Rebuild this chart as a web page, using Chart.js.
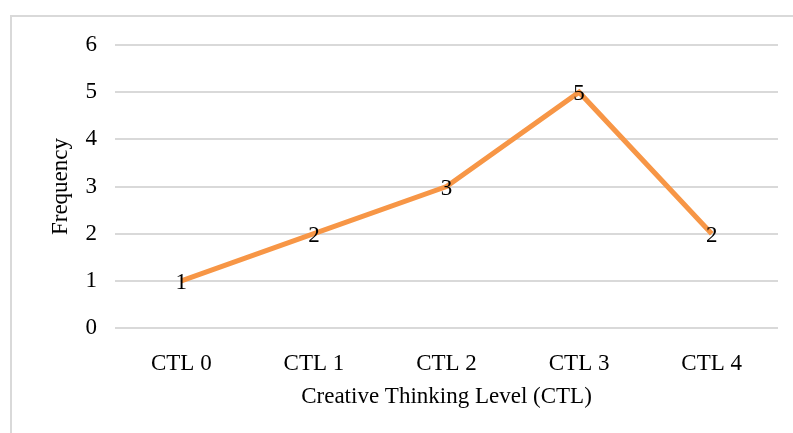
<!DOCTYPE html>
<html>
<head>
<meta charset="utf-8">
<script src="https://cdn.jsdelivr.net/npm/chart.js@4"></script>
<style>
  html, body { margin: 0; padding: 0; background: #fff; }
  #wrap { position: relative; width: 793px; height: 433px; overflow: hidden; }
  #frame { position: absolute; left: 10px; top: 15px; width: 820px; height: 440px; border: 2px solid #d9d9d9; box-sizing: border-box; }
  canvas { position: absolute; left: 0; top: 0; }
</style>
</head>
<body>
<div id="wrap">
  <div id="frame"></div>
  <canvas id="chart" width="793" height="433"></canvas>
</div>
<script>
const categories = ['CTL 0', 'CTL 1', 'CTL 2', 'CTL 3', 'CTL 4'];
const frequency = [1, 2, 3, 5, 2];
const yTicks = [0, 1, 2, 3, 4, 5, 6];

const font = 'Liberation Serif';
const size = 23;

// draws the value on top of each point, like the office chart does
const pointLabels = {
  id: 'pointLabels',
  afterDatasetsDraw(chart) {
    const ctx = chart.ctx;
    const meta = chart.getDatasetMeta(0);
    ctx.save();
    ctx.font = size + 'px "' + font + '"';
    ctx.fillStyle = '#000';
    ctx.textAlign = 'center';
    ctx.textBaseline = 'middle';
    meta.data.forEach((pt, i) => {
      ctx.fillText(String(frequency[i]), pt.x, pt.y + 2);
    });
    ctx.restore();
  }
};

new Chart(document.getElementById('chart'), {
  type: 'line',
  data: {
    labels: categories,
    datasets: [{
      label: 'Frequency',
      data: frequency,
      borderColor: '#f79646',
      borderWidth: 5,
      pointRadius: 0,
      tension: 0,
      fill: false
    }]
  },
  options: {
    responsive: false,
    animation: false,
    layout: { padding: { left: 10, right: 15, top: 45, bottom: 0 } },
    plugins: { legend: { display: false }, tooltip: { enabled: false } },
    scales: {
      x: {
        offset: true,
        grid: { display: false },
        border: { display: false },
        ticks: { color: '#000', font: { family: font, size: size }, padding: 14 },
        title: { display: true, text: 'Creative Thinking Level (CTL)', color: '#000', font: { family: font, size: size }, padding: { top: 22, bottom: 22 } },
        afterFit(s) { s.height = 105; }
      },
      y: {
        min: 0,
        max: 6,
        afterBuildTicks(s) { s.ticks = yTicks.map(v => ({ value: v })); },
        grid: { color: '#d9d9d9', lineWidth: 2, drawTicks: false },
        border: { display: false },
        ticks: { color: '#000', font: { family: font, size: size }, padding: 18 },
        title: { display: true, text: 'Frequency', color: '#000', font: { family: font, size: size }, padding: { top: 37, bottom: 37 } },
        afterFit(s) { s.width = 105; }
      }
    }
  },
  plugins: [pointLabels]
});
</script>
</body>
</html>
